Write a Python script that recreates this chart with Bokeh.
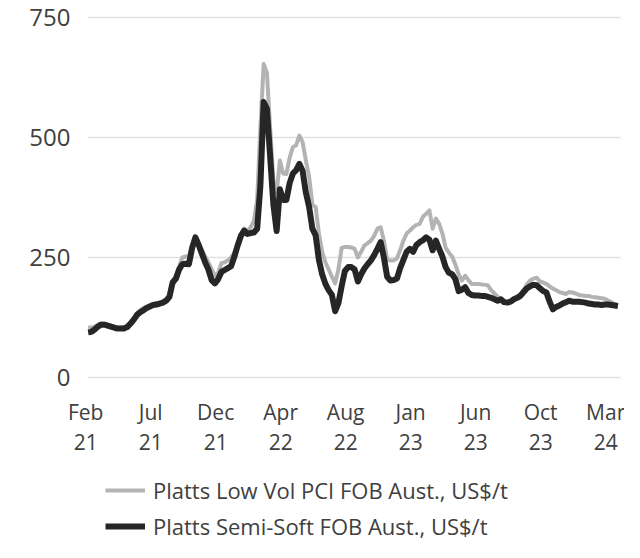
from bokeh.plotting import figure
from bokeh.models import Legend, LegendItem, Range1d, ColumnDataSource
from bokeh.core.properties import value
from bokeh.embed import file_html
from bokeh.resources import INLINE

tick_idx = [0, 20, 40, 60, 80, 100, 120, 140, 160]
tick_months = ["Feb", "Jul", "Dec", "Apr", "Aug", "Jan", "Jun", "Oct", "Mar"]
tick_years = ["21", "21", "21", "22", "22", "23", "23", "23", "24"]
y_ticks = [0, 250, 500, 750]

low_vol_pci = [
    104, 104, 106, 110, 113, 112, 110, 108, 106, 104,
    104, 104, 107, 115, 124, 134, 140, 145, 148, 151,
    153, 155, 156, 158, 163, 172, 202, 210, 232, 250,
    252, 252, 276, 292, 280, 266, 252, 240, 226, 212,
    218, 238, 240, 244, 250, 260, 280, 298, 310, 305,
    313, 327, 370, 520, 653, 635, 520, 410, 385, 452,
    425, 424, 458, 480, 484, 504, 490, 452, 418, 360,
    355, 300, 262, 240, 225, 210, 196, 225, 270, 272,
    272, 271, 268, 250, 262, 275, 280, 285, 295, 310,
    313, 285, 245, 244, 244, 248, 265, 285, 300, 306,
    313, 318, 320, 335, 341, 348, 310, 331, 320, 300,
    270, 260, 252, 235, 215, 202, 212, 203, 195, 195,
    195, 194, 193, 192, 182, 175, 168, 163, 158, 156,
    160, 165, 168, 174, 182, 194, 202, 206, 208, 200,
    198, 195, 190, 185, 182, 178, 176, 174, 178, 177,
    175, 172, 171, 170, 170, 168, 167, 166, 165, 164,
    160, 157, 152, 150,
]

semi_soft = [
    94, 95, 100, 106, 110, 110, 108, 106, 104, 102,
    102, 102, 105, 112, 120, 130, 136, 140, 145, 148,
    151, 152, 154, 156, 160, 168, 198, 206, 225, 236,
    237, 236, 270, 292, 276, 258, 240, 225, 203, 196,
    205, 220, 224, 228, 232, 252, 275, 295, 306, 299,
    301, 302, 310, 400, 574, 560, 460, 360, 305, 392,
    370, 370, 405, 425, 432, 445, 430, 385, 355, 310,
    296, 245, 215, 195, 182, 172, 138, 155, 190, 222,
    230, 230, 225, 200, 215, 227, 236, 244, 255, 268,
    282, 250, 210, 202, 203, 206, 228, 245, 262, 268,
    262, 276, 282, 286, 292, 287, 265, 285, 268, 252,
    230, 218, 215, 205, 180, 183, 188, 176, 172, 171,
    171, 170, 170, 168, 166, 163, 160, 163, 157, 156,
    158, 163, 166, 170, 178, 186, 190, 193, 192, 186,
    180, 177, 158, 142, 147, 150, 154, 157, 160, 158,
    158, 158, 157, 156, 154, 153, 152, 152, 151, 152,
    152, 151, 150, 149,
]

x = list(range(len(semi_soft)))

FONT = "Open Sans"
TXT = "#404040"

W, H = 624, 542
TOP = 17                      # pixel row of the 750 line
PLOT_L, PLOT_R = 87, 620      # pixel extent of the plotting area
X0, X1 = -0.2, 163.8          # data extent of the plotting area
PXX = (PLOT_R - PLOT_L) / (X1 - X0)
PXY = 360 / 750.0

x_start = X0 - PLOT_L / PXX
x_end = X1 + (W - PLOT_R) / PXX
y_start = -(H - TOP - 360) / PXY
y_end = 750 + TOP / PXY

p = figure(width=W, height=H, output_backend="svg", toolbar_location=None,
           x_range=Range1d(x_start, x_end), y_range=Range1d(y_start, y_end),
           min_border_left=0, min_border_right=0, min_border_top=0, min_border_bottom=0)
p.outline_line_color = None
p.axis.visible = False
p.grid.visible = False

# horizontal grid lines at the y ticks
p.segment(x0=[X0] * len(y_ticks), x1=[X1] * len(y_ticks), y0=y_ticks, y1=y_ticks,
          line_color="#e0e0e0", line_width=1.5)

r1 = p.line(x, low_vol_pci, line_color="#b3b3b3", line_width=4, line_join="round")
r2 = p.line(x, semi_soft, line_color="#262626", line_width=6, line_join="round")

# y tick labels
ylab = ColumnDataSource(dict(x=[X0] * len(y_ticks), y=y_ticks, t=[str(v) for v in y_ticks]))
p.text(x="x", y="y", text="t", source=ylab, text_align="right", text_baseline="middle",
       x_offset=-17, text_font=value(FONT), text_font_size="24px", text_color=TXT)

# x tick labels (two lines) under the zero line
lab = ColumnDataSource(dict(x=tick_idx, m=tick_months, yr=tick_years, y=[0] * len(tick_idx)))
p.text(x="x", y="y", text="m", source=lab, text_align="center", text_baseline="middle",
       x_offset=-2.5, y_offset=34, text_font=value(FONT), text_font_size="21px", text_color=TXT)
p.text(x="x", y="y", text="yr", source=lab, text_align="center", text_baseline="middle",
       x_offset=-2.5, y_offset=64, text_font=value(FONT), text_font_size="21px", text_color=TXT)

legend = Legend(items=[
    LegendItem(label="Platts Low Vol PCI FOB Aust., US$/t", renderers=[r1]),
    LegendItem(label="Platts Semi-Soft FOB Aust., US$/t", renderers=[r2]),
], orientation="vertical", location=(105, 1))
legend.label_text_font = FONT
legend.label_text_font_size = "22px"
legend.label_text_color = TXT
legend.border_line_color = None
legend.background_fill_alpha = 0
legend.glyph_width = 40
legend.glyph_height = 24
legend.label_height = 24
legend.spacing = 6
legend.margin = 0
legend.padding = 0
legend.label_standoff = 8
p.add_layout(legend, "center")

open("out.html", "w").write(file_html(p, INLINE))
